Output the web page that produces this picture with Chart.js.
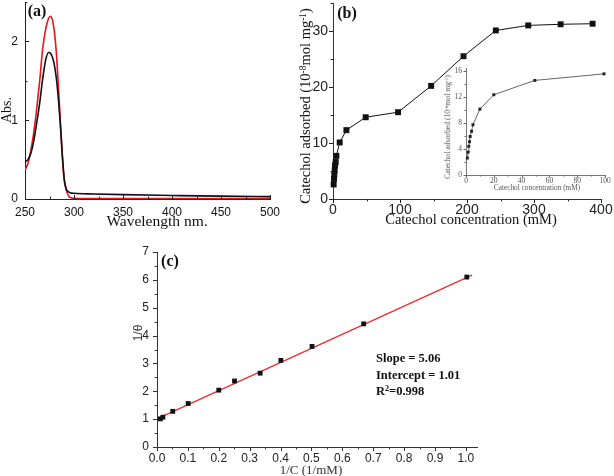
<!DOCTYPE html>
<html>
<head>
<meta charset="utf-8">
<script src="https://cdn.jsdelivr.net/npm/chart.js@4.4.0/dist/chart.umd.min.js"></script>
<style>
body{margin:0;background:#fff;width:614px;height:476px;position:relative;overflow:hidden}
canvas{position:absolute}
.t{position:absolute;white-space:nowrap;line-height:1;font-family:"Liberation Serif",serif;color:#111;transform:translate(-50%,-50%)}
.r{transform:translate(-50%,-50%) rotate(-90deg)}
.l{transform:translate(0,-50%)}
.b{font-weight:bold}
sup{font-size:0.65em;vertical-align:0.45em;line-height:0}
</style>
</head>
<body>
<canvas id="ca" width="300" height="232" style="left:0;top:0"></canvas>
<canvas id="cb" width="324" height="232" style="left:290px;top:0"></canvas>
<canvas id="ci" width="172" height="140" style="left:440px;top:55px"></canvas>
<canvas id="cc" width="370" height="238" style="left:120px;top:238px"></canvas>

<div class="t b" style="left:37px;top:11px;font-size:16px">(a)</div>
<div class="t r" style="left:6.5px;top:110px;font-size:14px">Abs.</div>
<div class="t" style="left:157px;top:221px;font-size:15.5px">Wavelength nm.</div>

<div class="t b" style="left:347px;top:13px;font-size:16px">(b)</div>
<div class="t r" style="left:305px;top:106px;font-size:14.5px">Catechol adsorbed (10<sup>-8</sup>mol mg<sup>-1</sup>)</div>
<div class="t" style="left:471px;top:219px;font-size:14.5px">Catechol concentration (mM)</div>
<div class="t r" style="left:448px;top:127px;font-size:7.7px;color:#555">Catechol adsorbed (10<sup>-8</sup>mol mg<sup>-1</sup>)</div>
<div class="t" style="left:537px;top:188px;font-size:7.3px;color:#555">Catechol concentration (mM)</div>

<div class="t b" style="left:170px;top:261px;font-size:16px">(c)</div>
<div class="t r" style="left:138px;top:333px;font-size:12px;font-family:'Liberation Sans',sans-serif;color:#333">1/θ</div>
<div class="t" style="left:311px;top:469px;font-size:13px;color:#333">1/C (1/mM)</div>
<div class="t l b" style="left:376px;top:358px;font-size:12.5px">Slope = 5.06</div>
<div class="t l b" style="left:376px;top:375px;font-size:12.5px">Intercept = 1.01</div>
<div class="t l b" style="left:376px;top:391px;font-size:12.5px">R<sup>2</sup>=0.998</div>

<script>
// (a) UV-vis spectra
var waveNm   = [250,253,256,259,262,265,268,271,274,276,278,280,282,284,286,288,290,292,294,296,300,320,350,400,450,500];
var absBlack = [0.47,0.5,0.58,0.74,0.97,1.22,1.52,1.76,1.86,1.85,1.8,1.7,1.53,1.28,0.96,0.58,0.26,0.13,0.095,0.08,0.072,0.064,0.055,0.045,0.036,0.03];
var absRed   = [0.37,0.45,0.62,0.85,1.15,1.5,1.9,2.15,2.29,2.32,2.27,2.12,1.85,1.45,1.0,0.55,0.24,0.12,0.05,0.02,0.008,0.005,0.005,0.005,0.005,0.005];

// (b) adsorption isotherm, main plot and inset
var concMain = [1,1.5,2,2.5,3,4,5,10,20,48.8,97.1,146.5,194.8,243,291.4,339.7,387.5];
var adsMain  = [2.6,3.6,4.35,5.1,6.0,6.6,7.7,10.1,12.3,14.6,15.5,20.2,25.5,30.1,31.0,31.2,31.3];
var concInset = [1,1.5,2,2.5,3,4,5,10,20,49.5,99.3];
var adsInset  = [2.6,3.5,4.4,5.1,5.9,6.7,7.7,10.1,12.3,14.5,15.5];

// (c) linearised plot
var invC     = [0.011,0.019,0.051,0.101,0.2,0.251,0.334,0.401,0.502,0.669,1.003];
var invTheta = [1.01,1.07,1.28,1.56,2.04,2.37,2.65,3.11,3.61,4.42,6.1];
var fitX = [0.005, 1.02];
var fitY = [1.035, 6.17];

function pts(xs, ys) {
  return xs.map(function (x, i) { return {x: x, y: ys[i]}; });
}
function keepSteps(step) {
  return function (s) {
    s.ticks = s.ticks.filter(function (t) {
      return Math.abs(t.value / step - Math.round(t.value / step)) < 1e-6;
    });
  };
}
// fix the scale box so the plot area lands where the original has it
function fixSize(w, h) {
  return function (s) {
    if (w) s.width = w;
    if (h) s.height = h;
    s.paddingTop = s.paddingBottom = s.paddingLeft = s.paddingRight = 0;
  };
}

// origin-style major/minor tick marks
var tickMarks = {
  id: 'tickMarks',
  afterDraw: function (chart, args, opts) {
    var ctx = chart.ctx;
    Object.keys(opts.axes || {}).forEach(function (id) {
      var o = opts.axes[id], s = chart.scales[id];
      var n = Math.floor((s.max - s.min) / o.minor + 1e-6);
      ctx.save();
      ctx.strokeStyle = o.color || '#222';
      ctx.lineWidth = 1;
      for (var i = 0; i <= n; i++) {
        var v = s.min + i * o.minor;
        var major = Math.abs(v / o.major - Math.round(v / o.major)) < 1e-6;
        var len = (major ? o.len : o.len * 0.6) * (o.inward ? -1 : 1);
        var p = Math.round(s.getPixelForValue(v)) + 0.5;
        ctx.beginPath();
        if (s.isHorizontal()) {
          ctx.moveTo(p, s.top); ctx.lineTo(p, s.top + len);
        } else {
          ctx.moveTo(s.right, p); ctx.lineTo(s.right - len, p);
        }
        ctx.stroke();
      }
      ctx.restore();
    });
  }
};

Chart.defaults.font.family = 'Liberation Sans';
Chart.defaults.animation = false;
Chart.defaults.plugins.legend.display = false;
Chart.defaults.plugins.tooltip.enabled = false;

// ---- (a)
new Chart(document.getElementById('ca'), {
  type: 'line',
  data: {
    datasets: [
      {data: pts(waveNm, absBlack), borderColor: '#111', borderWidth: 1.6, pointRadius: 0, cubicInterpolationMode: 'monotone'},
      {data: pts(waveNm, absRed), borderColor: '#e8141b', borderWidth: 1.6, pointRadius: 0, cubicInterpolationMode: 'monotone'}
    ]
  },
  options: {
    responsive: false,
    layout: {padding: {left: 0, top: 2, right: 30, bottom: 3}, autoPadding: false},
    plugins: {tickMarks: {axes: {
      x: {major: 50, minor: 25, len: 4, inward: true},
      y: {major: 1, minor: 0.5, len: 4, inward: true}
    }}},
    scales: {
      x: {type: 'linear', min: 250, max: 500,
        afterFit: fixSize(0, 30),
        grid: {display: false, drawTicks: false}, border: {color: '#222'},
        ticks: {stepSize: 50, includeBounds: false, padding: 6, font: {size: 12}, color: '#111', maxRotation: 0, autoSkip: false}},
      y: {min: 0, max: 2.5,
        afterFit: fixSize(25, 0),
        afterBuildTicks: keepSteps(1),
        grid: {display: false, drawTicks: false}, border: {color: '#222'},
        ticks: {stepSize: 1, includeBounds: false, padding: 7, font: {size: 12}, color: '#111'}}
    }
  },
  plugins: [tickMarks]
});

// ---- (b) main
new Chart(document.getElementById('cb'), {
  type: 'line',
  data: {
    datasets: [
      {data: pts(concMain, adsMain), borderColor: '#111', borderWidth: 1, backgroundColor: '#111',
       pointStyle: 'rect', pointRadius: 4.2, pointBorderWidth: 0, clip: false}
    ]
  },
  options: {
    responsive: false,
    layout: {padding: {left: 0, top: 3, right: 13, bottom: 3}, autoPadding: false},
    plugins: {tickMarks: {axes: {
      x: {major: 100, minor: 50, len: 4},
      y: {major: 10, minor: 5, len: 4}
    }}},
    scales: {
      x: {type: 'linear', min: 0, max: 400,
        afterFit: fixSize(0, 30),
        grid: {display: false, drawTicks: false}, border: {color: '#333'},
        ticks: {stepSize: 100, includeBounds: false, padding: 3, font: {size: 14}, color: '#222', maxRotation: 0, autoSkip: false}},
      y: {min: 0, max: 35,
        afterFit: fixSize(43, 0),
        afterBuildTicks: keepSteps(10),
        grid: {display: false, drawTicks: false}, border: {color: '#333'},
        ticks: {stepSize: 10, includeBounds: false, padding: 5, font: {size: 14}, color: '#222'}}
    }
  },
  plugins: [tickMarks]
});

// ---- (b) inset
new Chart(document.getElementById('ci'), {
  type: 'line',
  data: {
    datasets: [
      {data: pts(concInset, adsInset), borderColor: '#666', borderWidth: 1, backgroundColor: '#222',
       pointStyle: 'rect', pointRadius: 2.1, pointBorderWidth: 0, clip: false}
    ]
  },
  options: {
    responsive: false,
    layout: {padding: {left: 0, top: 13, right: 7, bottom: 0}, autoPadding: false},
    plugins: {tickMarks: {axes: {
      x: {major: 20, minor: 10, len: 2.5, color: '#666'},
      y: {major: 4, minor: 2, len: 2.5, color: '#666'}
    }}},
    scales: {
      x: {type: 'linear', min: 0, max: 100,
        afterFit: fixSize(0, 20),
        grid: {display: false, drawTicks: false}, border: {color: '#777'},
        ticks: {stepSize: 20, includeBounds: false, padding: 2, font: {size: 7.5, family: 'Liberation Serif'}, color: '#555', maxRotation: 0, autoSkip: false}},
      y: {min: 0, max: 16.4,
        afterFit: fixSize(26, 0),
        afterBuildTicks: keepSteps(4),
        grid: {display: false, drawTicks: false}, border: {color: '#777'},
        ticks: {stepSize: 4, includeBounds: false, padding: 4, font: {size: 7.5, family: 'Liberation Serif'}, color: '#555'}}
    }
  },
  plugins: [tickMarks]
});

// ---- (c)
new Chart(document.getElementById('cc'), {
  type: 'line',
  data: {
    datasets: [
      {data: pts(invC, invTheta), showLine: false, backgroundColor: '#111',
       pointStyle: 'rect', pointRadius: 3.4, pointBorderWidth: 0, clip: false},
      {data: pts(fitX, fitY), borderColor: '#ee2a2a', borderWidth: 1.2, pointRadius: 0}
    ]
  },
  options: {
    responsive: false,
    layout: {padding: {left: 0, top: 14, right: 13, bottom: 0}, autoPadding: false},
    plugins: {tickMarks: {axes: {
      x: {major: 0.1, minor: 0.05, len: 4, color: '#333'},
      y: {major: 1, minor: 0.5, len: 4, color: '#333'}
    }}},
    scales: {
      x: {type: 'linear', min: 0, max: 1.036,
        afterFit: fixSize(0, 29),
        afterBuildTicks: keepSteps(0.1),
        grid: {display: false, drawTicks: false}, border: {color: '#333'},
        ticks: {stepSize: 0.1, includeBounds: false, padding: 4, font: {size: 12}, color: '#222', maxRotation: 0, autoSkip: false,
          callback: function (v) { return v.toFixed(1); }}},
      y: {min: 0, max: 7,
        afterFit: fixSize(37, 0),
        afterBuildTicks: keepSteps(1),
        grid: {display: false, drawTicks: false}, border: {color: '#333'},
        ticks: {stepSize: 1, includeBounds: false, padding: 8, font: {size: 12}, color: '#222'}}
    }
  },
  plugins: [tickMarks]
});
</script>
</body>
</html>
